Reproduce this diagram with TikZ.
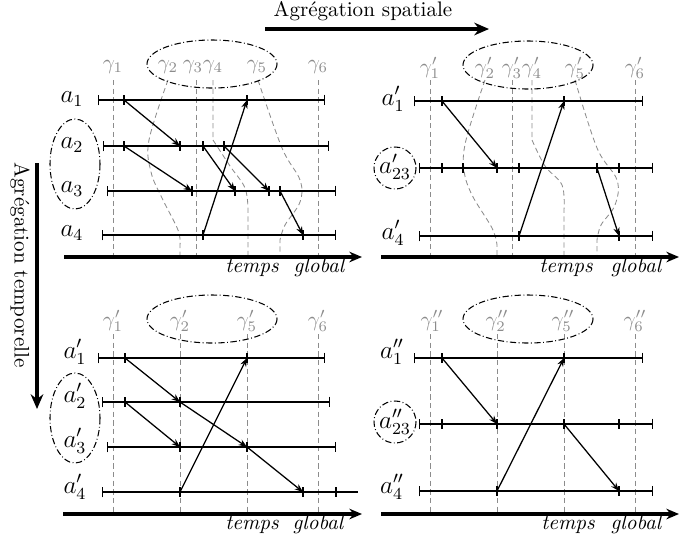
\documentclass[tikz,border=0pt]{standalone}
\usepackage{tikz}
\usetikzlibrary{arrows.meta}

\begin{document}
\begin{tikzpicture}[x=0.475pt, y=-0.475pt,
    timeline/.style={line width=0.7pt, {Bar[width=5pt]}-{Bar[width=5pt]}},
    tickmark/.style={line width=0.7pt},
    msg/.style={line width=0.6pt, -{Stealth[length=4pt, width=3pt]}},
    cutline/.style={black!45, line width=0.4pt, dash pattern=on 2.5pt off 1.6pt},
    grp/.style={line width=0.5pt, dash pattern=on 3pt off 1.2pt on 0.4pt off 1.2pt},
    axis/.style={line width=1.5pt, -{Stealth[length=6pt, width=5pt]}},
    bigarrow/.style={line width=1.8pt, -{Stealth[length=7pt, width=6pt]}},
    gam/.style={text=black!45, inner sep=0pt},
    agent/.style={font=\large, inner sep=0pt},
    axlabel/.style={anchor=base, inner sep=0pt, font=\itshape}
]
    \useasboundingbox (0,0) rectangle (694,541);

    % titles
    \node (spat) at (363,11) {Agrégation spatiale};
    \coordinate (spatA) at (265,29);
    \coordinate (spatB) at (489,29);
    \draw[bigarrow] (spatA) -- (spatB);
    \node[rotate=-90] (temp) at (20,265) {Agrégation temporelle};
    \coordinate (tempA) at (37,163);
    \coordinate (tempB) at (37,409);
    \draw[bigarrow] (tempA) -- (tempB);

    % ---------- panel 1 : initial trace ----------
    \foreach \x in {113,196,318} \draw[cutline] (\x,80) -- (\x,257);
    \draw[cutline] plot[smooth, tension=0.6] coordinates {(168,80) (149,140) (151,172) (162,198) (178,230) (180,245)} -- (180,257);
    \draw[cutline] (213,80) -- (213,140) plot[smooth, tension=0.6] coordinates {(213,140) (230,166) (245,188) (248,210)} -- (248,257);
    \draw[cutline] plot[smooth, tension=0.6] coordinates {(258,80) (282,148) (300,180) (300,202) (285,225) (280,240)} -- (280,257);
    \draw[grp] (212,64) ellipse [x radius=65, y radius=24];
    \draw[grp] (75,164) ellipse [x radius=25, y radius=45];
    \foreach \x/\i in {113/1,168/2,193/3,213/4,257/5,318/6}
        \node[gam] (g\i) at (\x,67) {$\gamma_\i$};
    \node[agent] (a1) at (72,99) {$a_1$};
    \node[agent] (a2) at (72,145) {$a_2$};
    \node[agent] (a3) at (72,189) {$a_3$};
    \node[agent] (a4) at (72,233) {$a_4$};
    \draw[timeline] (98,100) -- (325,100);
    \draw[timeline] (103,146) -- (329,146);
    \draw[timeline] (107,191) -- (336,191);
    \draw[timeline] (102,235) -- (336,235);
    \foreach \x in {124,247} \draw[tickmark] (\x,100) +(0,-5) -- +(0,5);
    \foreach \x in {124,180,203,224} \draw[tickmark] (\x,146) +(0,-5) -- +(0,5);
    \foreach \x in {192,235,269,280} \draw[tickmark] (\x,191) +(0,-5) -- +(0,5);
    \foreach \x in {203,303} \draw[tickmark] (\x,235) +(0,-5) -- +(0,5);
    \coordinate (pa1) at (124,100);
    \coordinate (pa2) at (247,100);
    \coordinate (pb1) at (124,146);
    \coordinate (pb2) at (180,146);
    \coordinate (pb3) at (203,146);
    \coordinate (pb4) at (224,146);
    \coordinate (pc1) at (192,191);
    \coordinate (pc2) at (235,191);
    \coordinate (pc3) at (269,191);
    \coordinate (pc4) at (280,191);
    \coordinate (pd1) at (203,235);
    \coordinate (pd2) at (303,235);
    \draw[msg] (pa1) -- (pb2);
    \draw[msg] (pb1) -- (pc1);
    \draw[msg] (pb3) -- (pc2);
    \draw[msg] (pb4) -- (pc3);
    \draw[msg] (pd1) -- (pa2);
    \draw[msg] (pc4) -- (pd2);
    \coordinate (ax1a) at (64,257);
    \coordinate (ax1b) at (362,257);
    \draw[axis] (ax1a) -- (ax1b);
    \node[axlabel] (t1) at (252,272) {temps};
    \node[axlabel] (gl1) at (319,272) {global};

    % ---------- panel 2 : spatial aggregation ----------
    \foreach \x in {430,512,635} \draw[cutline] (\x,80) -- (\x,257);
    \begin{scope}[xshift=317*0.475pt]
    \draw[cutline] plot[smooth, tension=0.6] coordinates {(168,80) (149,140) (147,170) (155,195) (175,228) (180,245)} -- (180,257);
    \draw[cutline] (215,80) -- (215,140) plot[smooth, tension=0.6] coordinates {(215,140) (228,166) (245,185) (247,210)} -- (247,257);
    \draw[cutline] plot[smooth, tension=0.6] coordinates {(258,80) (280,148) (300,180) (298,205) (284,225) (280,240)} -- (280,257);
    \end{scope}
    \draw[grp] (528,65) ellipse [x radius=65, y radius=24];
    \draw[grp] (395,168) circle [radius=21];
    \foreach \x/\i in {430/1,485/2,512/3,532/4,575/5,635/6}
        \node[gam] (gp\i) at (\x,68) {$\gamma'_\i$};
    \node[agent] (ap1) at (393,99) {$a'_1$};
    \node[agent] (ap23) at (395,167) {$a'_{23}$};
    \node[agent] (ap4) at (393,233) {$a'_4$};
    \draw[timeline] (414,101) -- (643,101);
    \draw[timeline] (419,168) -- (653,168);
    \draw[timeline] (419,236) -- (653,236);
    \foreach \x in {442,564} \draw[tickmark] (\x,101) +(0,-5) -- +(0,5);
    \foreach \x in {442,463,497,519,597,619} \draw[tickmark] (\x,168) +(0,-5) -- +(0,5);
    \foreach \x in {519,619} \draw[tickmark] (\x,236) +(0,-5) -- +(0,5);
    \coordinate (qa1) at (442,101);
    \coordinate (qa2) at (564,101);
    \coordinate (qb3) at (497,168);
    \coordinate (qb5) at (597,168);
    \coordinate (qd1) at (519,236);
    \coordinate (qd2) at (619,236);
    \draw[msg] (qa1) -- (qb3);
    \draw[msg] (qd1) -- (qa2);
    \draw[msg] (qb5) -- (qd2);
    \coordinate (ax2a) at (381,257);
    \coordinate (ax2b) at (679,257);
    \draw[axis] (ax2a) -- (ax2b);
    \node[axlabel] (t2) at (566,272) {temps};
    \node[axlabel] (gl2) at (636,272) {global};

    % ---------- panel 3 : temporal aggregation ----------
    \foreach \x in {113,180,247,318} \draw[cutline] (\x,334) -- (\x,514);
    \draw[grp] (212,319) ellipse [x radius=65, y radius=24];
    \draw[grp] (75,418) ellipse [x radius=25, y radius=45];
    \foreach \x/\i in {113/1,180/2,247/5,318/6}
        \node[gam] (gq\i) at (\x,321) {$\gamma'_\i$};
    \node[agent] (aq1) at (75,352) {$a'_1$};
    \node[agent] (aq2) at (75,396) {$a'_2$};
    \node[agent] (aq3) at (75,441) {$a'_3$};
    \node[agent] (aq4) at (75,487) {$a'_4$};
    \draw[timeline] (98,358) -- (325,358);
    \draw[timeline] (102,402) -- (330,402);
    \draw[timeline] (107,447) -- (336,447);
    \draw[line width=0.7pt, {Bar[width=5pt]}-] (102,492) -- (358,492);
    \foreach \x in {125,247} \draw[tickmark] (\x,358) +(0,-5) -- +(0,5);
    \foreach \x in {125,180} \draw[tickmark] (\x,402) +(0,-5) -- +(0,5);
    \foreach \x in {180,247} \draw[tickmark] (\x,447) +(0,-5) -- +(0,5);
    \foreach \x in {180,303,336} \draw[tickmark] (\x,492) +(0,-5) -- +(0,5);
    \coordinate (ra1) at (125,358);
    \coordinate (ra2) at (247,358);
    \coordinate (rb1) at (125,402);
    \coordinate (rb2) at (180,402);
    \coordinate (rc1) at (180,447);
    \coordinate (rc2) at (247,447);
    \coordinate (rd1) at (180,492);
    \coordinate (rd2) at (303,492);
    \draw[msg] (ra1) -- (rb2);
    \draw[msg] (rb1) -- (rc1);
    \draw[msg] (rb2) -- (rc2);
    \draw[msg] (rc2) -- (rd2);
    \draw[msg] (rd1) -- (ra2);
    \coordinate (ax3a) at (63,514);
    \coordinate (ax3b) at (362,514);
    \draw[axis] (ax3a) -- (ax3b);
    \node[axlabel] (t3) at (252,529) {temps};
    \node[axlabel] (gl3) at (318,529) {global};

    % ---------- panel 4 : both aggregations ----------
    \foreach \x in {430,497,564,635} \draw[cutline] (\x,334) -- (\x,514);
    \draw[grp] (528,319) ellipse [x radius=65, y radius=24];
    \draw[grp] (395,422) circle [radius=21];
    \foreach \x/\i in {432/1,497/2,563/5,635/6}
        \node[gam] (gs\i) at (\x,321) {$\gamma''_\i$};
    \node[agent] (as1) at (392,352) {$a''_1$};
    \node[agent] (as23) at (395,422) {$a''_{23}$};
    \node[agent] (as4) at (392,487) {$a''_4$};
    \draw[timeline] (414,358) -- (643,358);
    \draw[timeline] (419,424) -- (653,424);
    \draw[timeline] (419,491) -- (653,491);
    \foreach \x in {442,564} \draw[tickmark] (\x,358) +(0,-5) -- +(0,5);
    \foreach \x in {442,497,564,619} \draw[tickmark] (\x,424) +(0,-5) -- +(0,5);
    \foreach \x in {497,619} \draw[tickmark] (\x,491) +(0,-5) -- +(0,5);
    \coordinate (sa1) at (442,358);
    \coordinate (sa2) at (564,358);
    \coordinate (sb1) at (497,424);
    \coordinate (sb2) at (564,424);
    \coordinate (sd1) at (497,491);
    \coordinate (sd2) at (619,491);
    \draw[msg] (sa1) -- (sb1);
    \draw[msg] (sd1) -- (sa2);
    \draw[msg] (sb2) -- (sd2);
    \coordinate (ax4a) at (381,514);
    \coordinate (ax4b) at (679,514);
    \draw[axis] (ax4a) -- (ax4b);
    \node[axlabel] (t4) at (568,529) {temps};
    \node[axlabel] (gl4) at (636,529) {global};
\end{tikzpicture}
\end{document}
